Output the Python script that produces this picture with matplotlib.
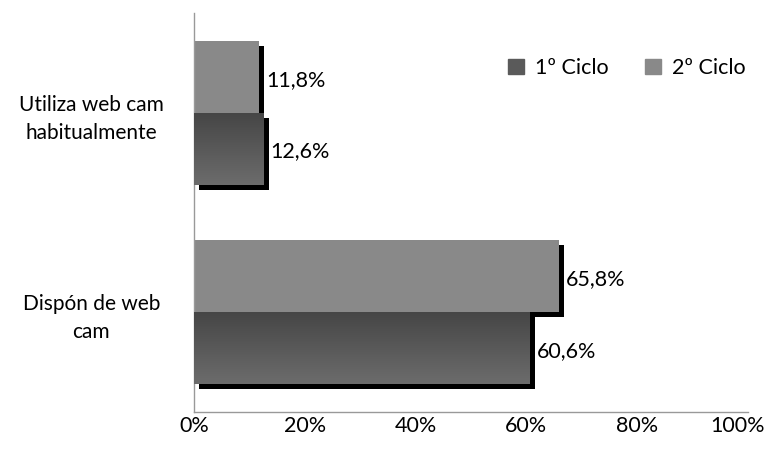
import numpy as np
import matplotlib
matplotlib.use("Agg")
import matplotlib.pyplot as plt
import matplotlib.patheffects as pe
from matplotlib.patches import Patch
from matplotlib.transforms import ScaledTranslation

plt.rcParams['font.family'] = ['Lato', 'DejaVu Sans']

categories = ['Dispón de web\ncam', 'Utiliza web cam\nhabitualmente']
ciclo1 = [60.6, 12.6]
ciclo2 = [65.8, 11.8]
series_names = ['1º Ciclo', '2º Ciclo']
xticks = [0, 20, 40, 60, 80, 100]

fig = plt.figure(figsize=(7.8, 4.65), dpi=100)
ax = fig.add_axes([194 / 780, 1 - 412 / 465, (748 - 194) / 780, (412 - 13) / 465])

y = np.arange(len(categories))
h = 0.36
shadow = [pe.SimplePatchShadow(offset=(3.6, -3.6), shadow_rgbFace='black', alpha=1.0), pe.Normal()]

bars2 = ax.barh(y + h / 2, ciclo2, height=h, color='#898989', zorder=2, path_effects=shadow)
bars1 = ax.barh(y - h / 2, ciclo1, height=h, color='#5a5a5a', zorder=3, path_effects=shadow)

# gradient fill for the 1º ciclo bars
grad = np.linspace(0, 1, 100).reshape(-1, 1)
cmap = matplotlib.colors.LinearSegmentedColormap.from_list('g', ['#6c6c6c', '#464646'])
for b in bars1:
    x0, y0, w, hh = b.get_x(), b.get_y(), b.get_width(), b.get_height()
    ax.imshow(grad, extent=(x0, x0 + w, y0 + hh, y0), cmap=cmap, aspect='auto',
              origin='upper', zorder=3.5)

for bars, vals in [(bars2, ciclo2), (bars1, ciclo1)]:
    for b, v in zip(bars, vals):
        ax.annotate(f'{v:.1f}%'.replace('.', ','),
                    (b.get_width(), b.get_y() + b.get_height() / 2),
                    xytext=(5, -2), textcoords='offset points',
                    ha='left', va='center', fontsize=15.5, color='black', zorder=5)

ax.set_xlim(0, 100)
ax.set_ylim(-0.5, 1.5)
ax.set_xticks(xticks)
ax.set_xticklabels([f'{t}%' for t in xticks], fontsize=15.5)
ax.set_yticks(y)
ax.set_yticklabels(categories, fontsize=15, ha='center', linespacing=1.5)
ax.tick_params(axis='both', length=0)
ax.tick_params(axis='x', pad=3)
ax.tick_params(axis='y', pad=74)

# last label sits a little to the left in the original
last = ax.get_xticklabels()[-1]
last.set_transform(last.get_transform() + ScaledTranslation(-10 / 100, 0, fig.dpi_scale_trans))

for s in ['top', 'right']:
    ax.spines[s].set_visible(False)
for s in ['left', 'bottom']:
    ax.spines[s].set_color('#999999')
    ax.spines[s].set_linewidth(1.0)

handles = [Patch(color='#5a5a5a'), Patch(color='#898989')]
fig.legend(handles, series_names, loc='center left', bbox_to_anchor=(497 / 780, 1 - 68 / 465),
           ncol=2, frameon=False, fontsize=15.5, handlelength=0.75, handleheight=0.75,
           handletextpad=0.5, columnspacing=1.7, borderpad=0)

fig.savefig('out.png', dpi=100)
